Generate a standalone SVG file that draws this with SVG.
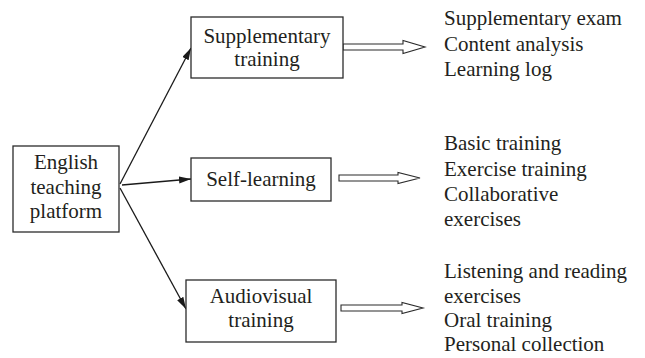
<svg xmlns="http://www.w3.org/2000/svg" width="645" height="358" viewBox="0 0 645 358">
<style>
.box{fill:#fff;stroke:#2b2b2b;stroke-width:1.3}
.t{font-family:"Liberation Serif","Times New Roman",serif;font-size:21px;fill:#231f20}
.c{text-anchor:middle}
.ln{stroke:#1a1a1a;stroke-width:1.3;fill:none}
.hollow{fill:#fff;stroke:#2b2b2b;stroke-width:1.1;stroke-linejoin:miter}
</style>
<defs>
<marker id="ah" markerUnits="userSpaceOnUse" markerWidth="13" markerHeight="8" refX="12" refY="3.5" orient="auto">
<path d="M0,0 L12,3.5 L0,7 Z" fill="#1a1a1a"/>
</marker>
</defs>
<rect width="645" height="358" fill="#fff"/>
<g id="connectors">
<line class="ln" x1="120" y1="184" x2="191" y2="48" marker-end="url(#ah)"/>
<line class="ln" x1="122" y1="185" x2="191" y2="179" marker-end="url(#ah)"/>
<line class="ln" x1="120" y1="188" x2="186" y2="309" marker-end="url(#ah)"/>
<path class="hollow" d="M343,44 L403,44 L403,40.5 L425,47 L403,53.5 L403,50 L343,50 Z"/>
<path class="hollow" d="M339,175 L398,175 L398,172.5 L420,178 L398,183.5 L398,181 L339,181 Z"/>
<path class="hollow" d="M341,305 L402,305 L402,302.5 L423,308 L402,313.5 L402,311 L341,311 Z"/>
</g>
<g id="english">
<rect class="box" x="13" y="146" width="106" height="86"/>
<text class="t c" x="66" y="169">English</text>
<text class="t c" x="66" y="193.5">teaching</text>
<text class="t c" x="66" y="218">platform</text>
</g>
<g id="supplementary">
<rect class="box" x="191" y="17" width="152" height="61"/>
<text class="t c" x="267" y="43">Supplementary</text>
<text class="t c" x="267" y="66">training</text>
</g>
<g id="selflearning">
<rect class="box" x="191" y="158" width="140" height="43"/>
<text class="t c" x="261" y="186">Self-learning</text>
</g>
<g id="audiovisual">
<rect class="box" x="186" y="280" width="150" height="62"/>
<text class="t c" x="261" y="303">Audiovisual</text>
<text class="t c" x="261" y="327">training</text>
</g>
<g id="list-supplementary">
<text class="t" x="444" y="25">Supplementary exam</text>
<text class="t" x="444" y="50.5">Content analysis</text>
<text class="t" x="444" y="76">Learning log</text>
</g>
<g id="list-selflearning">
<text class="t" x="444" y="150">Basic training</text>
<text class="t" x="444" y="175.5">Exercise training</text>
<text class="t" x="444" y="201">Collaborative</text>
<text class="t" x="444" y="226">exercises</text>
</g>
<g id="list-audiovisual">
<text class="t" x="444" y="278">Listening and reading</text>
<text class="t" x="444" y="302.5">exercises</text>
<text class="t" x="444" y="327">Oral training</text>
<text class="t" x="444" y="351">Personal collection</text>
</g>
</svg>
